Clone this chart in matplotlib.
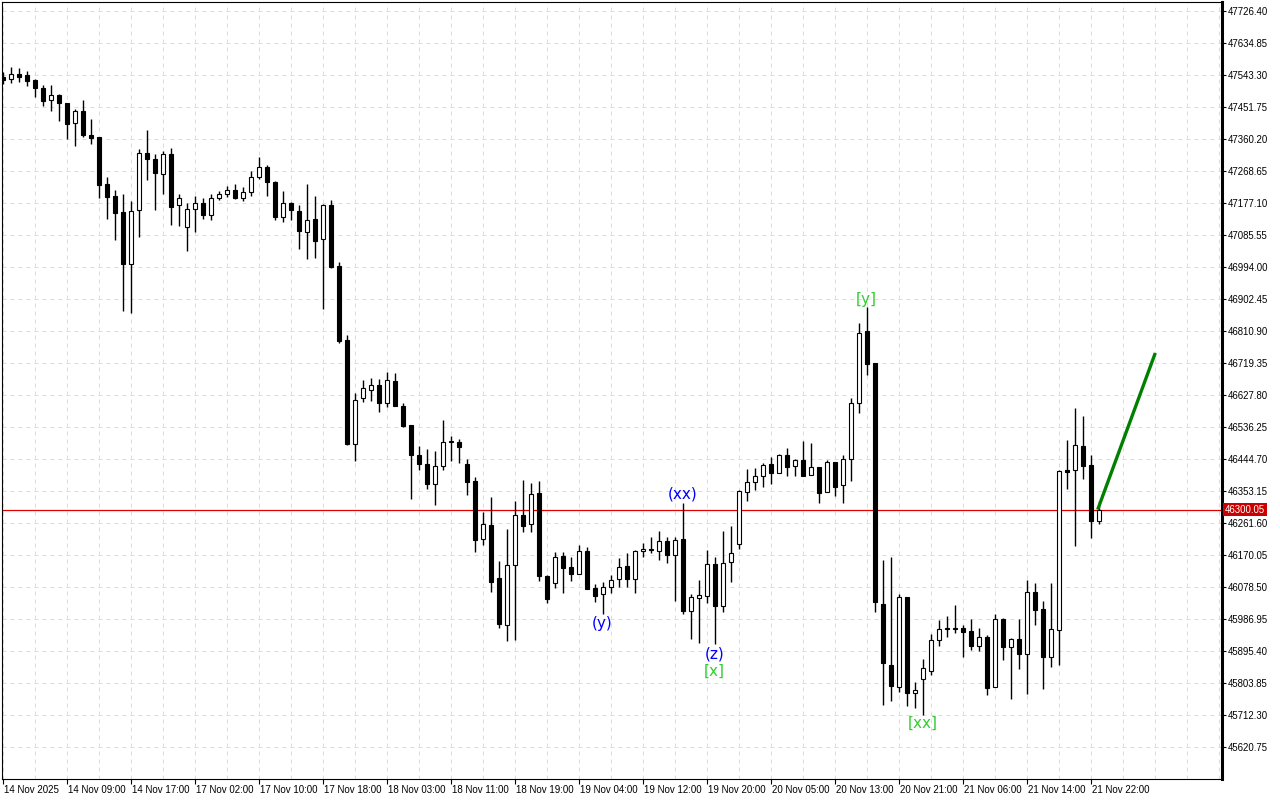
import matplotlib.pyplot as plt
from matplotlib import transforms

# hourly candles, 14 Nov 01:00 .. 21 Nov 23:00 (23 bars per day)
opens = [47538, 47531, 47545, 47543, 47529, 47506, 47471, 47486, 47463, 47405,
         47440, 47371, 47366, 47231, 47197, 47151, 47003, 47158, 47319, 47303,
         47261, 47316, 47170, 47109, 47159, 47176, 47144, 47191, 47202, 47213,
         47191, 47208, 47251, 47279, 47236, 47136, 47176, 47153, 47095, 47130,
         47073, 47171, 46997, 46785, 46487, 46618, 46641, 46656, 46604, 46667,
         46595, 46541, 46455, 46430, 46372, 46424, 46492, 46492, 46430, 46381,
         46217, 46255, 46103, 45969, 46141, 46284, 46258, 46347, 46109, 46089,
         46166, 46135, 46115, 46181, 46075, 46058, 46079, 46101, 46138, 46101,
         46181, 46187, 46181, 46209, 46169, 46215, 46011, 46046, 46052, 46143,
         46025, 46149, 46201, 46349, 46378, 46395, 46430, 46404, 46455, 46425,
         46441, 46398, 46421, 46349, 46437, 46369, 46446, 46606, 46810, 46719,
         46030, 45855, 45793, 46049, 45776, 45814, 45839, 45926, 45961, 45960,
         45960, 45952, 45910, 45935, 45792, 45986, 45908, 45929, 45888, 46063,
         46015, 45879, 45955, 46412, 46412, 46481, 46427, 46268]
highs = [47552, 47565, 47562, 47554, 47532, 47515, 47515, 47489, 47463, 47445,
         47472, 47417, 47366, 47251, 47214, 47203, 47183, 47332, 47386, 47316,
         47326, 47334, 47203, 47176, 47197, 47191, 47203, 47211, 47225, 47231,
         47223, 47269, 47309, 47285, 47240, 47211, 47180, 47170, 47231, 47198,
         47173, 47185, 47008, 46800, 46633, 46671, 46676, 46673, 46693, 46690,
         46604, 46541, 46481, 46473, 46468, 46556, 46510, 46503, 46444, 46393,
         46294, 46336, 46152, 46244, 46324, 46384, 46375, 46382, 46113, 46179,
         46179, 46165, 46198, 46192, 46086, 46094, 46113, 46161, 46175, 46185,
         46205, 46221, 46238, 46222, 46221, 46320, 46058, 46099, 46184, 46164,
         46239, 46253, 46356, 46415, 46420, 46434, 46451, 46459, 46475, 46444,
         46495, 46490, 46421, 46442, 46437, 46455, 46619, 46833, 46880, 46719,
         46156, 46164, 46058, 46049, 45806, 45872, 45943, 45984, 45996, 46027,
         45969, 45986, 45960, 45940, 46000, 45989, 45932, 45986, 46098, 46089,
         46038, 46089, 46412, 46498, 46590, 46568, 46455, 46325]
lows = [47518, 47520, 47524, 47513, 47481, 47455, 47441, 47413, 47361, 47341,
        47365, 47347, 47192, 47132, 47071, 46869, 46863, 47081, 47243, 47157,
        47203, 47114, 47112, 47041, 47094, 47132, 47128, 47185, 47195, 47190,
        47184, 47198, 47246, 47198, 47129, 47124, 47128, 47046, 47018, 47020,
        46875, 46992, 46777, 46485, 46440, 46609, 46612, 46578, 46594, 46595,
        46535, 46331, 46414, 46360, 46314, 46412, 46438, 46434, 46343, 46180,
        46200, 46065, 45960, 45925, 45927, 46235, 46236, 46097, 46034, 46075,
        46061, 46095, 46115, 46072, 46035, 46001, 46061, 46079, 46079, 46062,
        46163, 46177, 46156, 46146, 46039, 46001, 45931, 45919, 46033, 45915,
        46008, 46092, 46186, 46325, 46356, 46365, 46372, 46404, 46397, 46397,
        46397, 46398, 46320, 46349, 46340, 46320, 46383, 46575, 46685, 46008,
        45741, 45753, 45779, 45738, 45731, 45712, 45827, 45911, 45936, 45948,
        45879, 45899, 45896, 45770, 45792, 45871, 45759, 45845, 45773, 45971,
        45788, 45851, 45856, 46360, 46197, 46388, 46219, 46260]
closes = [47529, 47545, 47538, 47527, 47505, 47470, 47485, 47462, 47404, 47440,
          47373, 47364, 47229, 47195, 47149, 47003, 47153, 47319, 47304, 47264,
          47316, 47166, 47191, 47159, 47176, 47144, 47191, 47202, 47213, 47191,
          47208, 47251, 47279, 47236, 47138, 47176, 47156, 47098, 47128, 47069,
          47170, 46994, 46783, 46487, 46613, 46647, 46656, 46604, 46670, 46595,
          46540, 46457, 46430, 46374, 46424, 46492, 46495, 46478, 46380, 46212,
          46258, 46094, 45973, 46141, 46284, 46254, 46344, 46111, 46045, 46165,
          46134, 46115, 46181, 46074, 46054, 46079, 46099, 46137, 46101, 46181,
          46187, 46184, 46209, 46171, 46213, 46011, 46049, 46055, 46143, 46025,
          46148, 46175, 46353, 46378, 46395, 46427, 46404, 46455, 46422, 46441,
          46397, 46421, 46347, 46437, 46365, 46446, 46606, 46804, 46717, 46036,
          45862, 45796, 46049, 45774, 45783, 45846, 45926, 45958, 45957, 45958,
          45950, 45910, 45935, 45789, 45986, 45908, 45929, 45888, 46063, 46013,
          45879, 45958, 46410, 46408, 46484, 46426, 46268, 46300.05]

time_bars = [0, 8, 16, 24, 32, 40, 48, 56, 64, 72, 80, 88, 96, 104, 112, 120, 128, 136]
time_labels = ['14 Nov 2025', '14 Nov 09:00', '14 Nov 17:00', '17 Nov 02:00',
               '17 Nov 10:00', '17 Nov 18:00', '18 Nov 03:00', '18 Nov 11:00',
               '18 Nov 19:00', '19 Nov 04:00', '19 Nov 12:00', '19 Nov 20:00',
               '20 Nov 05:00', '20 Nov 13:00', '20 Nov 21:00', '21 Nov 06:00',
               '21 Nov 14:00', '21 Nov 22:00']
price_ticks = [47726.40, 47634.85, 47543.30, 47451.75, 47360.20, 47268.65,
               47177.10, 47085.55, 46994.00, 46902.45, 46810.90, 46719.35,
               46627.80, 46536.25, 46444.70, 46353.15, 46261.60, 46170.05,
               46078.50, 45986.95, 45895.40, 45803.85, 45712.30, 45620.75]
last_price = 46300.05

wave_texts = ['(xx)', '(y)', '(z)', '[x]', '[y]', '[xx]']
wave_bars = [85, 75, 89, 89, 108, 115]
wave_prices = [46345, 45975, 45888, 45837, 46902, 45689]
wave_colors = ['#0000ff', '#0000ff', '#0000ff', '#32cd32', '#32cd32', '#32cd32']

forecast_bars = [136.9, 144.1]
forecast_prices = [46300.05, 46748]

fig = plt.figure(figsize=(12.8, 8), dpi=100)
ax = fig.add_axes([2 / 1280, 21 / 800, 1220 / 1280, 777 / 800])
ax.set_xlim(-0.0625, 152.4375)
ax.set_ylim(45529.2, 47752.2)

# grid
grid_kw = dict(color='#dcdcdc', lw=0.72, ls=(0, (4, 4)), zorder=0)
for b in range(0, 153, 4):
    ax.axvline(b, **grid_kw)
for p in price_ticks:
    ax.axhline(p, **grid_kw)

# candles
xs = list(range(len(opens)))
ax.vlines(xs, lows, highs, color='black', lw=1.0, zorder=2)
bottoms = [min(o, c) for o, c in zip(opens, closes)]
heights = [max(abs(c - o), 0.5) for o, c in zip(opens, closes)]
fills = ['white' if c >= o else 'black' for o, c in zip(opens, closes)]
ax.bar(xs, heights, bottom=bottoms, width=0.5, color=fills,
       edgecolor='black', linewidth=0.8, zorder=3)

# bid line and price tag
ax.axhline(last_price, color='#e00000', lw=0.9, zorder=1)
trans = transforms.blended_transform_factory(ax.transAxes, ax.transData)
ax.text(1 + 3 / 1220, last_price, f'{last_price:.2f}', transform=trans,
        ha='left', va='center', color='white', fontsize=6.9,
        family='Liberation Sans', clip_on=False, zorder=6,
        bbox=dict(boxstyle='square,pad=0.2', fc='#cc0000', ec='none'))

# wave labels
for t, b, p, c in zip(wave_texts, wave_bars, wave_prices, wave_colors):
    ax.text(b, p, t, color=c, fontsize=11, ha='center', va='center',
            family='DejaVu Sans', zorder=5)

# forecast line
ax.plot(forecast_bars, forecast_prices, color='#008000', lw=2.4,
        solid_capstyle='butt', zorder=5)

# axes
ax.set_xticks(time_bars, time_labels)
ax.tick_params(axis='x', direction='out', length=3.5, width=0.8, pad=0.5,
               labelsize=7)
offset = transforms.ScaledTranslation(0.8 / 72, 0, fig.dpi_scale_trans)
for lab in ax.get_xticklabels():
    lab.set_horizontalalignment('left')
    lab.set_transform(lab.get_transform() + offset)
    lab.set_family('Liberation Sans')

ax.yaxis.tick_right()
ax.set_yticks(price_ticks, [f'{p:.2f}' for p in price_ticks])
ax.tick_params(axis='y', direction='out', length=3, width=0.8, pad=1.5,
               labelsize=6.9)
for lab in ax.get_yticklabels():
    lab.set_family('Liberation Sans')

for side in ['left', 'top', 'bottom']:
    ax.spines[side].set_linewidth(0.8)
ax.spines['right'].set_linewidth(2.2)

fig.savefig('out.png', dpi=100, facecolor='white')
